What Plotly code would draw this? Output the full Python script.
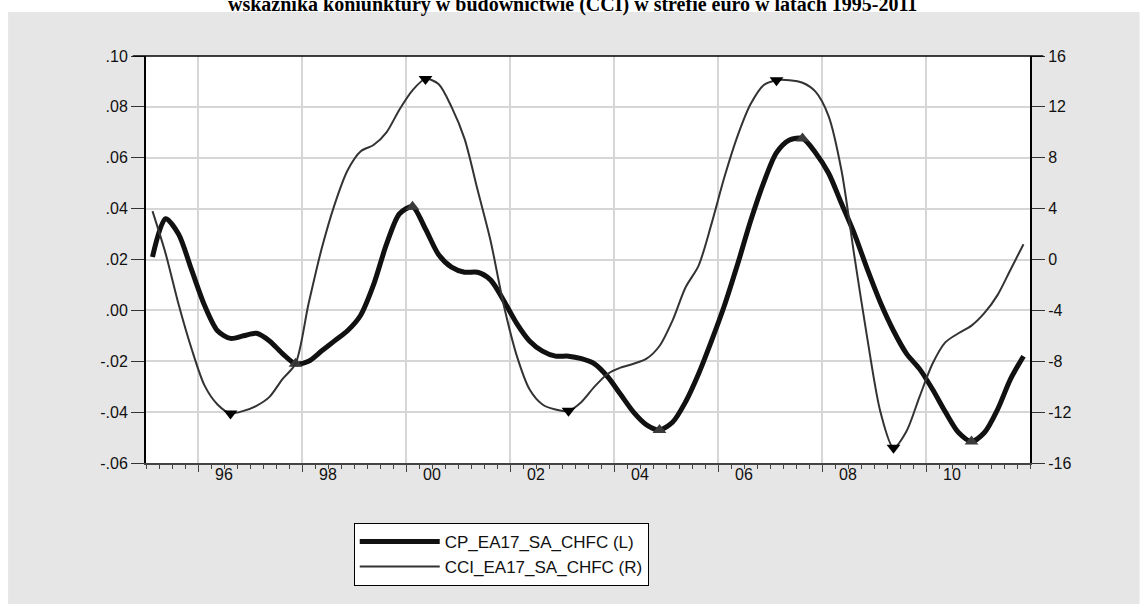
import plotly.graph_objects as go

# ---------------- data ----------------
years = list(range(1995, 2012))
quarters = [y + (q * 0.25) + 0.125 for y in years for q in range(4)]  # quarter mid-points

cp = [0.021, 0.036, 0.030, 0.016,
      0.002, -0.008, -0.011, -0.010,
      -0.009, -0.012, -0.017, -0.021,
      -0.020, -0.016, -0.012, -0.008,
      -0.002, 0.010, 0.026, 0.038,
      0.0407, 0.032, 0.022, 0.017,
      0.015, 0.015, 0.012, 0.004,
      -0.005, -0.012, -0.016, -0.018,
      -0.018, -0.019, -0.021, -0.026,
      -0.033, -0.040, -0.045, -0.047,
      -0.044, -0.036, -0.025, -0.012,
      0.002, 0.018, 0.035, 0.050,
      0.062, 0.067, 0.0676, 0.062,
      0.054, 0.042, 0.030, 0.016,
      0.003, -0.008, -0.017, -0.023,
      -0.031, -0.040, -0.048, -0.0515,
      -0.048, -0.039, -0.027, -0.018]

cci = [3.8, 0.5, -3.5, -7.0,
       -9.9, -11.4, -12.1, -11.9,
       -11.5, -10.8, -9.4, -8.2,
       -3.5, 0.8, 4.3, 7.0,
       8.5, 9.0, 10.0, 11.8,
       13.3, 14.2, 13.8, 12.0,
       9.5, 5.5, 1.5, -3.5,
       -7.5, -10.2, -11.4, -11.8,
       -11.9, -11.2, -10.0, -9.0,
       -8.5, -8.2, -7.8, -6.8,
       -4.8, -2.2, -0.5, 2.8,
       6.5, 9.7, 12.2, 13.7,
       14.1, 14.1, 13.9, 13.2,
       11.3, 7.0, 0.2, -6.3,
       -12.0, -14.8, -13.5, -10.8,
       -8.2, -6.5, -5.8, -5.2,
       -4.2, -2.8, -0.8, 1.2]

cp_turn_idx = [11, 20, 39, 50, 63]
cci_turn_idx = [6, 21, 32, 48, 57]

left_ticks = [-0.06, -0.04, -0.02, 0.0, 0.02, 0.04, 0.06, 0.08, 0.10]
left_text = ["-.06", "-.04", "-.02", ".00", ".02", ".04", ".06", ".08", ".10"]
right_ticks = [-16, -12, -8, -4, 0, 4, 8, 12, 16]
right_text = ["-16", "-12", "-8", "-4", "0", "4", "8", "12", "16"]
grid_years = [1996, 1998, 2000, 2002, 2004, 2006, 2008, 2010]
label_pos = [1996.5, 1998.5, 2000.5, 2002.5, 2004.5, 2006.5, 2008.5, 2010.5]
label_text = ["96", "98", "00", "02", "04", "06", "08", "10"]

title_text = "wskaźnika koniunktury w budownictwie (CCI) w strefie euro w latach 1995-2011"
names = ["CP_EA17_SA_CHFC (L)", "CCI_EA17_SA_CHFC (R)"]

# --------------- figure ----------------
fig = go.Figure()
fig.add_trace(go.Scatter(x=quarters, y=cp, mode="lines", name=names[0],
                         line=dict(color="#111111", width=5, shape="spline", smoothing=0.8),
                         xaxis="x", yaxis="y"))
fig.add_trace(go.Scatter(x=quarters, y=cci, mode="lines", name=names[1],
                         line=dict(color="#333333", width=2, shape="spline", smoothing=0.8),
                         xaxis="x2", yaxis="y2"))
fig.add_trace(go.Scatter(x=[quarters[i] for i in cp_turn_idx], y=[cp[i] for i in cp_turn_idx],
                         mode="markers", showlegend=False,
                         marker=dict(symbol="triangle-up", size=12, color="#3a3a3a"),
                         xaxis="x", yaxis="y"))
fig.add_trace(go.Scatter(x=[quarters[i] for i in cci_turn_idx], y=[cci[i] for i in cci_turn_idx],
                         mode="markers", showlegend=False,
                         marker=dict(symbol="triangle-down", size=12, color="#000000"),
                         xaxis="x2", yaxis="y2"))

font_ax = dict(family="Liberation Sans, Arial", size=16, color="#111111")

fig.update_layout(
    width=1147, height=604,
    margin=dict(l=146, r=117, t=56, b=141),
    paper_bgcolor="white", plot_bgcolor="white",
    showlegend=True,
    legend=dict(x=0.235, y=-0.147, xanchor="left", yanchor="top",
                bgcolor="white", bordercolor="black", borderwidth=1,
                font=dict(family="Liberation Sans, Arial", size=17, color="#111111"),
                itemwidth=80, tracegroupgap=0),
    xaxis=dict(range=[1995, 2012], tickvals=grid_years, showticklabels=False,
               ticks="outside", ticklen=7, tickcolor="#444444", tickwidth=1,
               showgrid=True, gridcolor="#d6d6d6", gridwidth=2, zeroline=False,
               showline=True, linecolor="#444444", linewidth=2, mirror=False,
               minor=dict(dtick=0.25, tick0=1995, ticks="outside", ticklen=4,
                          tickcolor="#444444", showgrid=False)),
    xaxis2=dict(range=[1995, 2012], overlaying="x", matches="x", anchor="y", side="bottom",
                tickvals=label_pos, ticktext=label_text, ticks="", showgrid=False,
                zeroline=False, showline=False, tickfont=font_ax),
    yaxis=dict(range=[-0.06, 0.10], tickvals=left_ticks, ticktext=left_text,
               ticks="outside", ticklen=13, tickcolor="#333333", tickwidth=1,
               showgrid=True, gridcolor="#d6d6d6", gridwidth=2, zeroline=False,
               showline=True, linecolor="#000000", linewidth=2, tickfont=font_ax),
    yaxis2=dict(range=[-16, 16], overlaying="y", side="right", anchor="x",
                tickvals=right_ticks, ticktext=right_text,
                ticks="outside", ticklen=13, tickcolor="#333333", tickwidth=1,
                showgrid=False, zeroline=False,
                showline=True, linecolor="#000000", linewidth=2, tickfont=font_ax),
    shapes=[
        dict(type="rect", xref="paper", yref="paper", x0=-0.156, x1=1.124, y0=-0.35, y1=1.108,
             fillcolor="#e6e6e6", line=dict(width=0), layer="below"),
        dict(type="rect", xref="paper", yref="paper", x0=0, x1=1, y0=0, y1=1,
             fillcolor="white", line=dict(width=0), layer="below"),
        dict(type="line", xref="paper", yref="paper", x0=-0.015, x1=1.015, y0=1, y1=1,
             line=dict(color="#000000", width=1.5)),
    ],
    annotations=[dict(text="<b>" + title_text + "</b>", xref="paper", yref="paper",
                      x=0.482, y=1.127, xanchor="center", yanchor="middle", showarrow=False,
                      font=dict(family="Liberation Serif, Times New Roman", size=20, color="#000"))],
)

fig.write_html("out.html")
